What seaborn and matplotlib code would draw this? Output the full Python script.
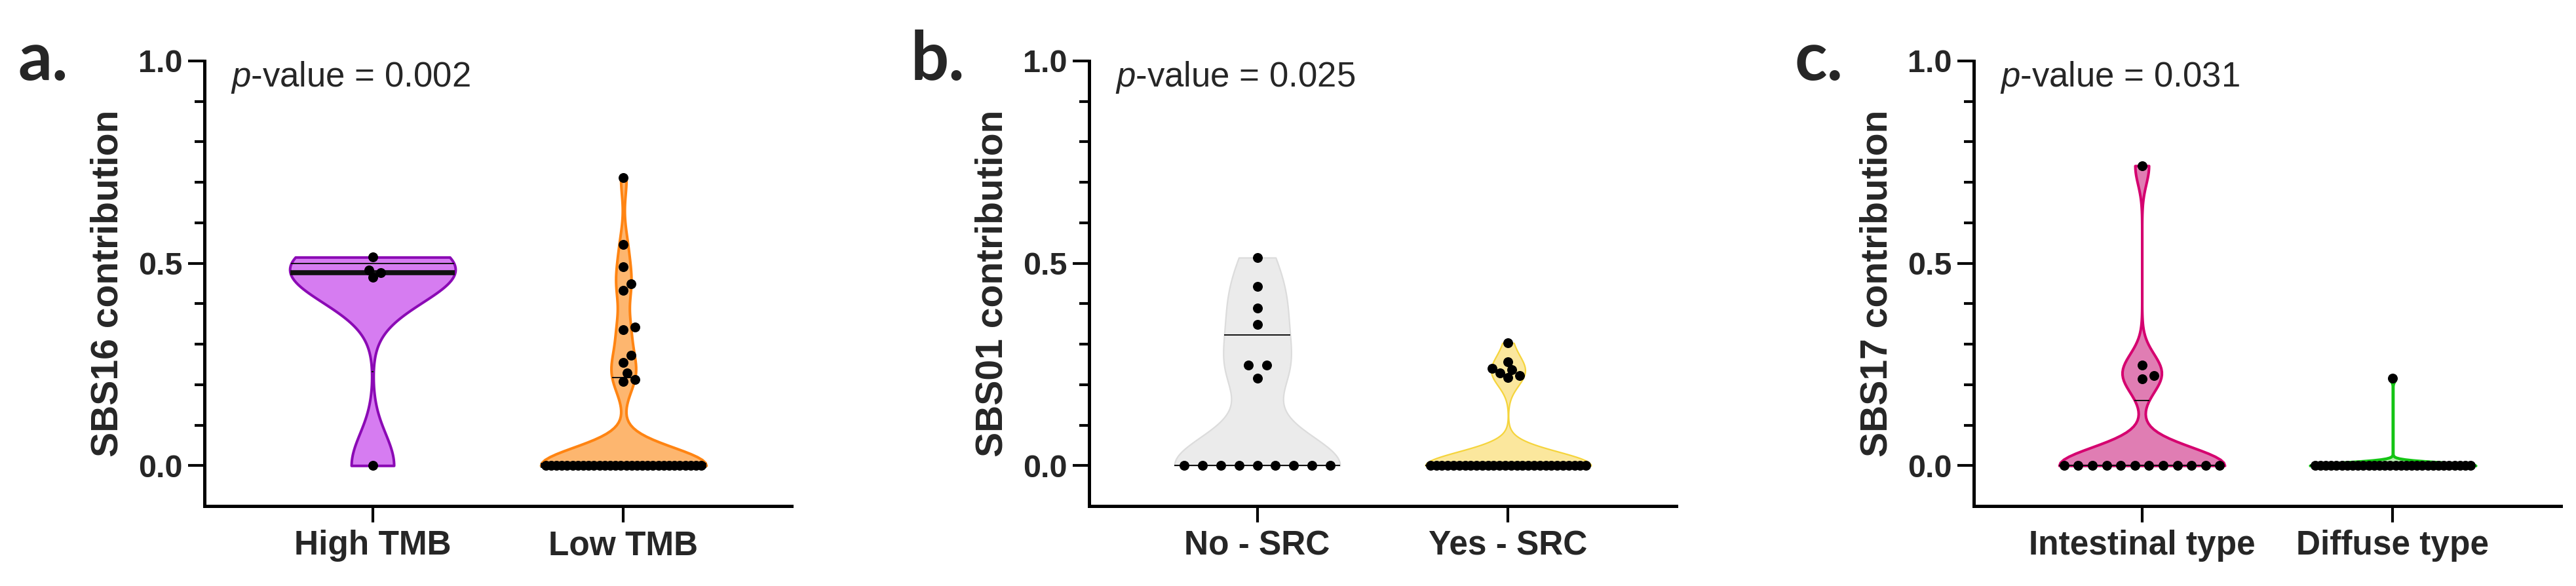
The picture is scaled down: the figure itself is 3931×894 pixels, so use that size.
import numpy as np
import pandas as pd
import matplotlib
matplotlib.use('Agg')
import matplotlib.pyplot as plt
import seaborn as sns

# panel a - SBS16 by tumour mutational burden
tmb_groups = ['High TMB', 'Low TMB']
high_tmb = [0.515, 0.484, 0.476, 0.465, 0.0]
low_tmb = [0.711, 0.547, 0.491, 0.450, 0.433, 0.342, 0.335, 0.272, 0.254, 0.229, 0.213, 0.208] + [0.0] * 30

# panel b - SBS01 by signet ring cells
src_groups = ['No - SRC', 'Yes - SRC']
no_src = [0.514, 0.443, 0.389, 0.348, 0.249, 0.249, 0.216] + [0.0] * 9
yes_src = [0.303, 0.256, 0.240, 0.237, 0.229, 0.223, 0.218] + [0.0] * 28

# panel c - SBS17 by Lauren type
lauren_groups = ['Intestinal type', 'Diffuse type']
intestinal = [0.741, 0.248, 0.223, 0.215] + [0.0] * 12
diffuse = [0.216] + [0.0] * 30

ylabels = ['SBS16 contribution', 'SBS01 contribution', 'SBS17 contribution']
pvalues = ['0.002', '0.025', '0.031']
letters = ['a.', 'b.', 'c.']

panels = [
    (tmb_groups, [high_tmb, low_tmb]),
    (src_groups, [no_src, yes_src]),
    (lauren_groups, [intestinal, diffuse]),
]

# styling
fills = [['#D67CF1', '#FDB66F'], ['#EBEBEB', '#FBE79D'], ['#E07DB3', '#B8EEB0']]
edges = [['#8B0AB5', '#FF8412'], ['#DCDCDC', '#F5D43C'], ['#D5006F', '#14C414']]
edge_lw = [[2.9, 2.9], [1.6, 1.6], [2.9, 3.2]]
median_lw = [5.5, 1.4, 1.4]
bw = [0.5, 0.7, 0.4]

sns.set_style('ticks')
plt.rcParams['font.family'] = ['Liberation Sans', 'DejaVu Sans']
plt.rcParams['mathtext.fontset'] = 'custom'
plt.rcParams['mathtext.rm'] = 'Liberation Sans:weight=normal'
plt.rcParams['mathtext.it'] = 'Liberation Sans:style=italic:weight=normal'


def line_halfwidth(poly, center, y):
    # half width of the violin outline at height y
    v = poly.get_paths()[0].vertices
    right = v[v[:, 0] > center + 1e-6]
    right = right[np.argsort(right[:, 1])]
    return np.interp(y, right[:, 1], right[:, 0]) - center


def spread_points(ax, coll, row_step=0.073, max_half=0.31, min_dist=13):
    # prism-like layout: tied values in a row, the rest as a small swarm
    pts = np.asarray(coll.get_offsets()).copy()
    if len(pts) == 0:
        return
    center = np.round(pts[:, 0].mean())
    vals = pts[:, 1]
    uniq, counts = np.unique(vals, return_counts=True)
    for u, c in zip(uniq, counts):
        if c > 1:
            idx = np.where(vals == u)[0]
            half = min((c - 1) * row_step / 2, max_half)
            pts[idx, 0] = np.linspace(center - half, center + half, c)
    placed = [ax.transData.transform(pts[k]) for k in range(len(pts))
              if counts[np.searchsorted(uniq, vals[k])] > 1]
    cx = ax.transData.transform((center, 0))[0]
    for k in np.argsort(vals):
        if counts[np.searchsorted(uniq, vals[k])] > 1:
            continue
        py = ax.transData.transform((center, vals[k]))[1]
        for off in [0, 6, -6, 12, -12, 18, -18, 24, -24, 30, -30]:
            p = np.array([cx + off, py])
            if all(np.hypot(*(p - q)) >= min_dist for q in placed):
                break
        placed.append(p)
        pts[k] = ax.transData.inverted().transform(p)
    coll.set_offsets(pts)


fig = plt.figure(figsize=(39.31, 8.94), dpi=100)
lefts = [312, 1662, 3012]
letter_x = [28, 1390, 2738]

for i, (groups, values) in enumerate(panels):
    ax = fig.add_axes([lefts[i] / 3931, 122 / 894, 896 / 3931, 679 / 894])
    df = pd.DataFrame({
        'group': np.repeat(groups, [len(v) for v in values]),
        'value': np.concatenate(values),
    })

    sns.violinplot(data=df, x='group', y='value', hue='group', order=groups, hue_order=groups,
                   palette=fills[i], saturation=1, cut=0, inner=None, density_norm='width',
                   width=0.66, bw_adjust=bw[i], linewidth=2.5, legend=False, ax=ax)
    polys = list(ax.collections)
    for j, poly in enumerate(polys):
        poly.set_facecolor(fills[i][j])
        poly.set_edgecolor(edges[i][j])
        poly.set_linewidth(edge_lw[i][j])

    # median and quartile lines (prism style percentiles)
    for j, vals in enumerate(values):
        q1, med, q3 = np.percentile(vals, [25, 50, 75], method='weibull')
        for yq, lw in [(q1, 1.4), (q3, 1.4), (med, median_lw[i])]:
            hw = line_halfwidth(polys[j], j, yq)
            ax.plot([j - hw, j + hw], [yq, yq], color='#111111', lw=lw,
                    solid_capstyle='butt', zorder=3)

    n_before = len(ax.collections)
    sns.stripplot(data=df, x='group', y='value', order=groups, jitter=False,
                  color='black', size=10.8, linewidth=0, ax=ax, zorder=4)

    ax.set_xlim(-0.67, 1.67)
    ax.set_ylim(-0.1, 1.0)
    for coll in ax.collections[n_before:]:
        spread_points(ax, coll)

    ax.set_yticks([0.0, 0.5, 1.0])
    ax.set_yticklabels(['0.0', '0.5', '1.0'], fontweight='bold')
    ax.set_yticks(np.arange(0.1, 1.0, 0.1)[[0, 1, 2, 3, 5, 6, 7, 8]], minor=True)
    ax.set_xticks(range(len(groups)))
    ax.set_xticklabels(groups, fontweight='bold')
    ax.set_xlabel('')
    ax.set_ylabel(ylabels[i], fontsize=41, fontweight='bold')
    ax.yaxis.set_label_coords(-0.134, 0.5)

    for side in ['top', 'right']:
        ax.spines[side].set_visible(False)
    for side in ['left', 'bottom']:
        ax.spines[side].set_linewidth(3.6)
        ax.spines[side].set_color('black')
    ax.tick_params(axis='both', which='major', length=18, width=3, color='black')
    ax.tick_params(axis='y', which='minor', length=11, width=3, color='black')
    ax.tick_params(axis='y', which='major', labelsize=35, pad=6)
    ax.tick_params(axis='x', which='major', labelsize=37, pad=8)

    ax.text(0.045, 0.942, r'$p$-value = ' + pvalues[i], transform=ax.transAxes,
            fontsize=38, fontweight='normal', va='baseline', ha='left')

    fig.text(letter_x[i] / 3931, 1 - 122 / 894, letters[i], fontsize=74,
             fontweight='bold', family=['Lato', 'DejaVu Sans'], va='baseline', ha='left')

fig.savefig('out.png', dpi=100)
